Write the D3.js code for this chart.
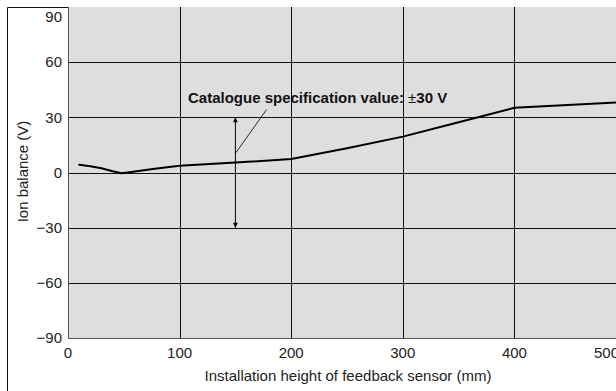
<!DOCTYPE html>
<html>
<head>
<meta charset="utf-8">
<script src="https://cdn.jsdelivr.net/npm/d3@7"></script>
<style>
  html, body { margin: 0; padding: 0; background: #fff; }
  svg { display: block; font-family: "Liberation Sans", Arial, sans-serif; }
</style>
</head>
<body>
<svg id="chart" width="616" height="391"></svg>
<script>
  // values
  var heights = [10, 20, 30, 40, 48, 60, 76, 100, 150, 200, 250, 300, 350, 400, 500];
  var balance = [4.2, 3.4, 2.3, 0.7, -0.4, 0.5, 1.9, 3.7, 5.4, 7.3, 13.2, 19.5, 27.3, 35.2, 38.3];
  var xTicks = [0, 100, 200, 300, 400, 500];
  var yTicks = [-90, -60, -30, 0, 30, 60, 90];
  var specLimit = [-30, 30];
  var specLabel = "Catalogue specification value: ";

  (function () {
    var svg = d3.select("#chart");
    var m = { left: 68, right: 626, top: 7, bottom: 338 };

    var x = d3.scaleLinear().domain([0, 500]).range([m.left, m.right]);
    var y = d3.scaleLinear().domain([-90, 90]).range([m.bottom, m.top]);

    // outer frame (top and left edges)
    svg.append("line").attr("x1", 7.5).attr("x2", 616).attr("y1", 7.5).attr("y2", 7.5)
      .attr("stroke", "#111").attr("stroke-width", 1);
    svg.append("line").attr("x1", 7.5).attr("x2", 7.5).attr("y1", 7.5).attr("y2", 391)
      .attr("stroke", "#111").attr("stroke-width", 1);

    svg.append("rect")
      .attr("x", m.left).attr("y", m.top)
      .attr("width", m.right - m.left).attr("height", m.bottom - m.top)
      .attr("fill", "#dedede");

    // grid
    var grid = svg.append("g").attr("stroke", "#111").attr("stroke-width", 1);
    grid.selectAll("line.v").data(xTicks.slice(1)).join("line")
      .attr("class", "v")
      .attr("x1", function (d) { return Math.round(x(d)) + 0.5; })
      .attr("x2", function (d) { return Math.round(x(d)) + 0.5; })
      .attr("y1", m.top).attr("y2", m.bottom);
    grid.selectAll("line.h").data(yTicks.slice(1, -1)).join("line")
      .attr("class", "h")
      .attr("x1", m.left).attr("x2", m.right)
      .attr("y1", function (d) { return Math.round(y(d)) + 0.5; })
      .attr("y2", function (d) { return Math.round(y(d)) + 0.5; });

    // plot border left and bottom
    svg.append("line").attr("x1", m.left + 0.5).attr("x2", m.left + 0.5).attr("y1", m.top).attr("y2", m.bottom + 0.5)
      .attr("stroke", "#555").attr("stroke-width", 1);
    svg.append("line").attr("x1", m.left).attr("x2", m.right).attr("y1", m.bottom + 0.5).attr("y2", m.bottom + 0.5)
      .attr("stroke", "#555").attr("stroke-width", 1);

    // tick labels (end labels pulled inside the frame)
    var fmt = function (d) { return d < 0 ? "\u2212" + Math.abs(d) : String(d); };
    svg.append("g").selectAll("text").data(yTicks).join("text")
      .attr("x", 62)
      .attr("y", function (d) { return d === 90 ? y(d) + 14.5 : y(d) + 5.3; })
      .attr("text-anchor", "end").attr("font-size", 15).attr("fill", "#222")
      .text(fmt);
    svg.append("g").selectAll("text").data(xTicks).join("text")
      .attr("x", function (d) { return d === 500 ? 619 : x(d); }).attr("y", 358)
      .attr("text-anchor", function (d) { return d === 500 ? "end" : "middle"; })
      .attr("font-size", 15).attr("fill", "#222")
      .text(fmt);

    // axis titles
    svg.append("text")
      .attr("x", 348).attr("y", 381)
      .attr("text-anchor", "middle").attr("font-size", 15).attr("fill", "#222")
      .text("Installation height of feedback sensor (mm)");
    svg.append("text")
      .attr("transform", "translate(28," + 171.5 + ") rotate(-90)")
      .attr("text-anchor", "middle").attr("font-size", 15).attr("fill", "#222")
      .text("Ion balance (V)");

    // data line
    var line = d3.line()
      .x(function (d, i) { return x(heights[i]); })
      .y(function (d) { return y(d); });
    svg.append("path").datum(balance)
      .attr("d", line)
      .attr("fill", "none").attr("stroke", "#000").attr("stroke-width", 2)
      .attr("stroke-linejoin", "round").attr("stroke-linecap", "round");

    // spec annotation: double arrow
    var defs = svg.append("defs");
    defs.append("marker").attr("id", "head")
      .attr("viewBox", "0 0 10 10").attr("refX", 10).attr("refY", 5)
      .attr("markerWidth", 9).attr("markerHeight", 5).attr("markerUnits", "userSpaceOnUse")
      .attr("orient", "auto-start-reverse")
      .append("path").attr("d", "M0,0 L10,5 L0,10 Z").attr("fill", "#000");
    svg.append("line")
      .attr("x1", x(150)).attr("x2", x(150))
      .attr("y1", y(specLimit[1])).attr("y2", y(specLimit[0]))
      .attr("stroke", "#000").attr("stroke-width", 1)
      .attr("marker-start", "url(#head)").attr("marker-end", "url(#head)");
    // leader line
    svg.append("line")
      .attr("x1", x(178)).attr("y1", y(34.3))
      .attr("x2", x(150.5)).attr("y2", y(10.8))
      .attr("stroke", "#000").attr("stroke-width", 0.8);

    var label = svg.append("text")
      .attr("x", 188).attr("y", 103)
      .attr("font-size", 15).attr("font-weight", "bold").attr("fill", "#111");
    label.append("tspan").text(specLabel);
    label.append("tspan").attr("font-weight", "normal").text("\u00b1");
    label.append("tspan").text(specLimit[1] + " V");
  })();
</script>
</body>
</html>
